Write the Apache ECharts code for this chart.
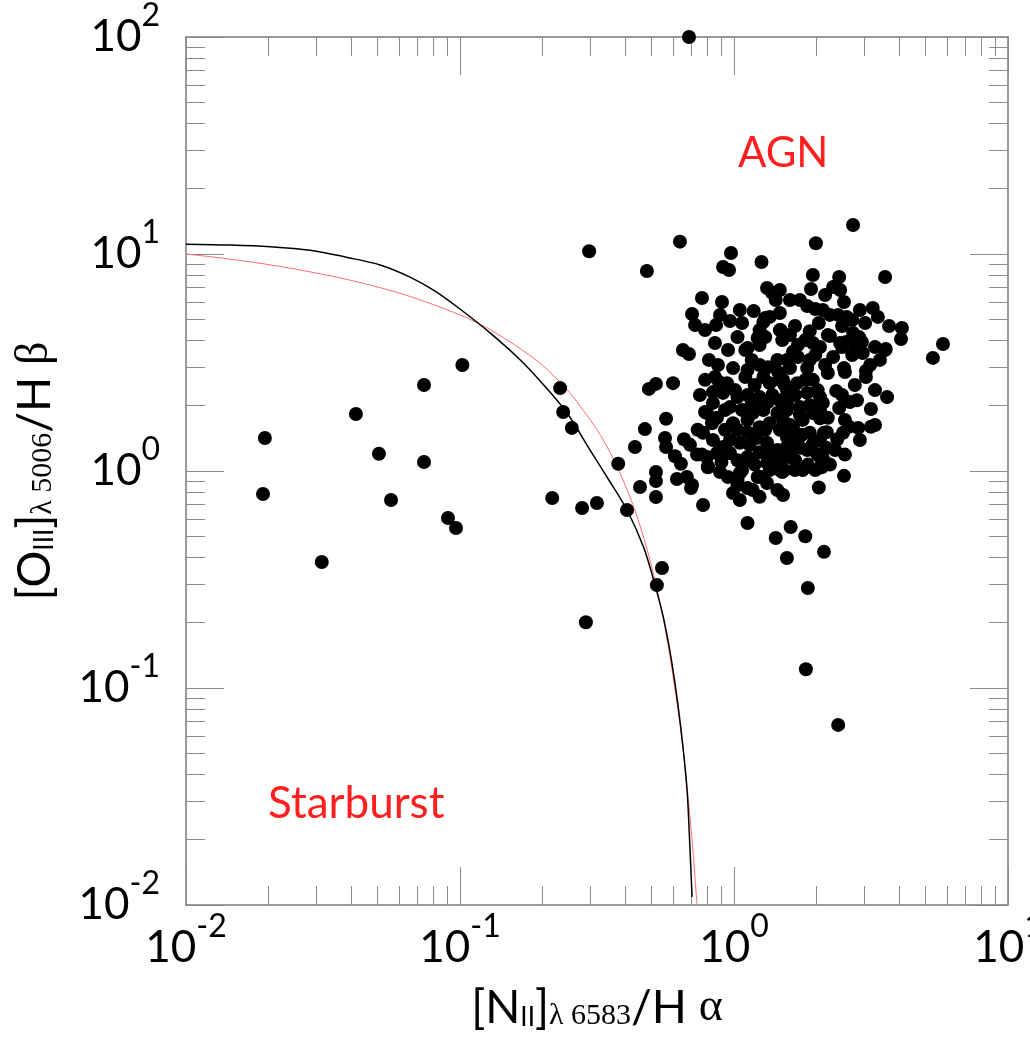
<!DOCTYPE html>
<html lang="en" style="height: 100%">
<head>
  <meta charset="utf-8">
  <title>BPT diagram</title>
</head>
<body style="height: 100%; margin: 0; background: #fff">
  <div id="container" style="width: 1030px; height: 1042px"></div>

  <script type="text/javascript" src="https://cdn.jsdelivr.net/npm/echarts@6/dist/echarts.min.js"></script>

  <script type="text/javascript">
    var dom = document.getElementById('container');
    var myChart = echarts.init(dom, null, { renderer: 'canvas' });

    // [NII]/Halpha , [OIII]/Hbeta  -- isolated galaxies
    const outerPoints = [
      [0.0194, 1.42], [0.0191, 0.784], [0.0313, 0.381], [0.0417, 1.83], [0.0506, 1.20],
      [0.056, 0.735], [0.0739, 2.49], [0.0739, 1.10], [0.0904, 0.607], [0.0967, 0.546],
      [0.102, 3.08], [0.217, 0.751], [0.232, 2.41], [0.238, 1.87], [0.256, 1.58],
      [0.279, 0.675], [0.288, 0.201], [0.296, 10.3], [0.316, 0.712], [0.378, 1.08],
      [0.407, 0.661], [0.435, 1.29], [0.454, 0.844], [0.481, 8.35], [0.635, 11.4],
      [0.519, 0.759], [0.546, 0.357], [0.523, 0.298], [0.685, 100]
    ];

    // the AGN cloud
    const clusterPoints = [
      [0.489, 2.39], [0.519, 2.52], [0.599, 2.54], [0.473, 1.56], [0.565, 1.74], [0.56, 1.42],
      [0.565, 1.29], [0.657, 1.40], [0.609, 1.17], [0.64, 1.08], [0.519, 0.99], [0.519, 0.90],
      [0.619, 0.918], [0.673, 0.938], [0.697, 0.835], [0.771, 0.697], [1.12, 0.576], [1.42, 0.491],
      [0.651, 3.61], [0.685, 3.46], [0.703, 5.29], [0.721, 4.71], [0.764, 6.27], [0.904, 6.01],
      [0.975, 10.1], [1.26, 9.19], [0.912, 8.71], [0.959, 8.44], [1.32, 6.97], [1.38, 6.61],
      [1.42, 6.14], [0.889, 5.24], [0.86, 4.71], [0.967, 4.91], [1.07, 4.81], [1.18, 5.46],
      [1.30, 5.07], [1.47, 5.35], [1.47, 4.46], [1.30, 4.14], [1.22, 4.10], [1.24, 3.81],
      [1.50, 4.01], [0.852, 3.89], [1.03, 4.14], [1.12, 3.69], [1.16, 3.25], [0.81, 3.25],
      [0.874, 3.08], [0.992, 2.98], [1.12, 2.92], [1.33, 3.01], [1.44, 3.25], [0.852, 2.71],
      [0.882, 2.57],
      [2.72, 13.6], [1.99, 11.2], [1.94, 8.0], [2.42, 7.83], [3.56, 7.83], [1.91, 6.90],
      [2.30, 7.05], [2.52, 6.01], [1.85, 5.76], [1.98, 5.58], [2.11, 5.52], [2.24, 5.24],
      [2.40, 5.24], [2.58, 5.13], [3.21, 5.64], [3.35, 5.13], [1.35, 5.13], [1.28, 4.86],
      [2.04, 4.81], [2.48, 4.66], [1.67, 4.66], [3.01, 4.81], [3.68, 4.66], [4.10, 4.56],
      [4.07, 4.06], [5.79, 3.85], [5.32, 3.32], [1.48, 4.46], [1.89, 4.41], [1.82, 4.01],
      [2.24, 4.19], [2.72, 4.33], [2.86, 4.14], [3.27, 3.73], [3.58, 3.65], [2.95, 3.50],
      [2.70, 3.42], [2.48, 3.73], [2.57, 3.93], [2.06, 3.73], [3.03, 2.89], [3.03, 2.71],
      [2.52, 2.98], [2.20, 2.83], [3.62, 2.19], [2.36, 2.34], [1.60, 2.98], [1.85, 2.98],
      [2.15, 3.08], [1.64, 3.54], [1.71, 3.35], [1.56, 3.25], [1.89, 3.25], [2.30, 3.35],
      [1.94, 3.89], [2.44, 3.89], [2.93, 3.93], [3.56, 3.61],
      [3.16, 1.93], [2.81, 2.12], [2.42, 1.95], [3.16, 1.60], [2.84, 1.58], [2.63, 1.60],
      [2.50, 1.50], [2.38, 1.40], [2.13, 1.50], [2.17, 1.28], [2.09, 1.12], [1.98, 1.01],
      [1.85, 1.25], [1.77, 1.47], [2.52, 0.95], [2.04, 0.84], [1.67, 1.01], [1.78, 1.01],
      [1.50, 0.99], [1.39, 1.09], [1.24, 0.94], [1.24, 0.76], [1.61, 0.552], [1.82, 0.50],
      [1.56, 0.397], [2.13, 0.424], [1.86, 0.289], [1.83, 0.122], [2.40, 0.0676],
      [0.797, 1.85], [0.831, 1.66], [0.733, 1.19], [0.764, 1.19], [0.803, 1.05], [0.889, 0.99],
      [0.951, 0.938], [1.03, 0.909], [1.07, 1.01], [1.22, 0.938], [0.992, 0.792], [1.05, 0.735],
      [1.17, 0.817], [0.771, 1.50], [0.838, 1.39], [0.912, 1.29], [0.967, 1.21], [1.05, 1.35],
      [1.16, 1.12], [1.24, 1.22], [1.07, 1.10],
      [0.943, 2.54], [1.10, 2.71], [1.19, 2.49], [1.28, 2.71], [1.35, 2.54], [1.47, 2.63],
      [1.56, 2.36], [0.838, 2.31], [0.912, 2.29], [1.03, 2.19], [1.16, 2.06], [1.24, 2.19],
      [1.33, 2.08], [1.47, 2.12], [0.838, 2.06], [0.967, 1.97], [1.07, 1.91], [1.17, 1.85],
      [1.28, 1.91], [1.44, 1.85], [1.56, 1.91], [0.784, 1.87], [0.867, 1.76], [0.992, 1.66],
      [1.03, 1.55], [1.12, 1.72], [1.24, 1.59], [1.35, 1.66], [1.47, 1.55], [1.14, 1.32],
      [1.21, 1.42], [1.32, 1.35], [1.44, 1.25], [1.56, 1.29], [0.797, 1.16], [0.867, 1.21],
      [0.951, 1.21], [1.03, 1.12], [1.12, 1.16], [1.32, 1.09], [1.47, 1.12], [1.56, 1.16],
      [0.803, 1.04], [1.05, 0.979], [1.35, 1.01], [1.47, 1.01], [0.703, 0.862], [1.03, 0.862],
      [1.12, 0.835], [1.32, 0.88], [1.44, 0.817], [1.51, 0.775],
      [2.54, 2.86], [1.51, 2.63], [1.70, 2.54], [1.94, 2.63], [1.85, 2.29], [2.06, 2.19],
      [2.11, 2.06], [2.48, 2.24], [2.65, 2.08], [1.56, 2.06], [1.74, 1.97], [1.51, 1.72],
      [1.64, 1.59], [1.78, 1.72], [1.94, 1.85], [2.06, 1.75], [1.56, 1.43], [1.71, 1.39],
      [1.89, 1.50], [2.06, 1.39], [2.18, 1.51], [1.60, 1.25], [1.74, 1.28], [2.01, 1.19],
      [2.11, 1.15], [1.67, 1.12], [1.86, 1.07], [1.53, 1.01], [2.09, 1.04],
      // densest part of the cloud
      [0.927, 1.91], [1.008, 2.36], [1.12, 2.24], [1.22, 2.01], [1.38, 2.24], [1.60, 1.63],
      [1.74, 1.81], [1.89, 2.01], [1.67, 2.24], [1.82, 2.63], [2.02, 2.36], [2.20, 1.76],
      [2.34, 1.25], [1.93, 1.32], [1.67, 1.39], [1.35, 1.19], [1.19, 1.07], [1.30, 1.55],
      [1.12, 1.51], [0.927, 1.55], [0.90, 1.10], [0.967, 1.39], [1.53, 2.49], [1.45, 2.86],
      [1.24, 3.08], [1.71, 3.81], [1.60, 4.23], [1.98, 3.42], [2.20, 4.23], [2.70, 4.96],
      [2.88, 5.52], [1.74, 6.14], [2.15, 6.47], [2.44, 6.83], [2.76, 3.81], [3.14, 3.08],
      [2.76, 2.49], [3.27, 2.36], [3.41, 3.25], [2.06, 1.91], [2.54, 1.72], [2.88, 1.39],
      [3.27, 1.63], [2.24, 1.07], [2.54, 1.19], [0.784, 2.63], [0.751, 2.24], [0.737, 1.55],
      [0.691, 1.32], [1.10, 3.61], [0.951, 3.61], [1.24, 4.46], [1.05, 5.52], [0.784, 4.46],
      [1.60, 6.14], [1.47, 6.83]
    ];

    // demarcation curves
    const blackCurve = [
      [0.01, 11.1], [0.0145, 11.0], [0.0203, 10.8], [0.0284, 10.4], [0.0397, 9.59],
      [0.0511, 8.90], [0.0657, 7.83], [0.0811, 6.75], [0.1, 5.58], [0.129, 4.32],
      [0.166, 3.25], [0.204, 2.46], [0.246, 1.85], [0.298, 1.25], [0.353, 0.89],
      [0.407, 0.661], [0.469, 0.442], [0.515, 0.298], [0.555, 0.206], [0.599, 0.121],
      [0.641, 0.064], [0.674, 0.0339], [0.691, 0.0179], [0.703, 0.0109]
    ];
    const redCurve = [
      [0.01, 10.0], [0.0158, 9.34], [0.0251, 8.52], [0.0398, 7.57], [0.0631, 6.48],
      [0.1, 5.24], [0.126, 4.55], [0.158, 3.82], [0.2, 3.07], [0.251, 2.30],
      [0.316, 1.55], [0.355, 1.20], [0.398, 0.88], [0.447, 0.596], [0.501, 0.361],
      [0.562, 0.185], [0.631, 0.0724], [0.676, 0.0337], [0.708, 0.0178], [0.733, 0.01]
    ];

    // minor tick positions
    const xMinorTicks = [0.02, 0.03, 0.04, 0.05, 0.06, 0.07, 0.08, 0.09,
      0.2, 0.3, 0.4, 0.5, 0.6, 0.7, 0.8, 0.9, 2, 3, 4, 5, 6, 7, 8, 9];
    const yMinorTicks = [0.02, 0.03, 0.04, 0.05, 0.06, 0.07, 0.08, 0.09,
      0.2, 0.3, 0.4, 0.5, 0.6, 0.7, 0.8, 0.9, 2, 3, 4, 5, 6, 7, 8, 9,
      20, 30, 40, 50, 60, 70, 80, 90];

    const FONT = 'Lato';
    const SERIF = 'Liberation Serif';
    const frameColor = '#7a7a7a';
    const tickColor = '#8c8c8c';

    function powLabel(v) {
      const e = Math.round(Math.log(v) / Math.LN10);
      return '{b|10}{s|' + e + '}';
    }
    // "10" fills the line box, exponent sits at its top
    const powRich = {
      b: { fontFamily: FONT, fontSize: 44, color: '#000', lineHeight: 74 },
      s: { fontFamily: FONT, fontSize: 32, color: '#000', lineHeight: 32, verticalAlign: 'top' }
    };
    const nameRich = {
      t: { fontFamily: FONT, fontSize: 46, color: '#000', lineHeight: 46, verticalAlign: 'top' },
      g: { fontFamily: SERIF, fontSize: 46, color: '#000', lineHeight: 46, verticalAlign: 'top' },
      i: { fontFamily: FONT, fontSize: 26, color: '#000', lineHeight: 26,
           verticalAlign: 'bottom', padding: [28, 0, 0, 0] },
      l: { fontFamily: SERIF, fontSize: 30, color: '#000', lineHeight: 30,
           verticalAlign: 'bottom', padding: [32, 0, 0, 0] }
    };

    function logToValue(list) {
      return list.map(function (v) { return Math.log(v) / Math.LN10; });
    }

    function majorAxis(pos, withLabels, extra) {
      const isX = pos === 'bottom' || pos === 'top';
      return Object.assign({
        type: 'log',
        logBase: 10,
        min: 0.01,
        max: isX ? 10 : 100,
        position: pos,
        axisLine: { show: true, onZero: false, lineStyle: { color: frameColor, width: 1.5 } },
        axisTick: { show: true, inside: true, length: 38, lineStyle: { color: tickColor, width: 1 } },
        axisLabel: withLabels
          ? { show: true, formatter: powLabel, rich: powRich, margin: isX ? 6 : 26 }
          : { show: false },
        splitLine: { show: false },
        minorTick: { show: false }
      }, extra || {});
    }

    function minorAxis(pos, ticks) {
      const isX = pos === 'bottom' || pos === 'top';
      return {
        type: 'value',
        min: -2,
        max: isX ? 1 : 2,
        position: pos,
        axisLine: { show: false, onZero: false },
        axisTick: {
          show: true, inside: true, length: 19,
          customValues: logToValue(ticks),
          lineStyle: { color: tickColor, width: 1 }
        },
        axisLabel: { show: false },
        splitLine: { show: false }
      };
    }

    var option = {
      backgroundColor: '#fff',
      animation: false,
      grid: {
        left: 186, top: 37, right: 22, bottom: 137,
        containLabel: false,
        outerBoundsMode: 'none'
      },
      xAxis: [
        majorAxis('bottom', true, {
          name: '{t|[N}{i|II}{t|]}{l|λ 6583}{t|/H }{g|α}',
          nameLocation: 'middle',
          nameGap: 80,
          nameMoveOverlap: false,
          nameTextStyle: { rich: nameRich }
        }),
        minorAxis('bottom', xMinorTicks),
        majorAxis('top', false),
        minorAxis('top', xMinorTicks)
      ],
      yAxis: [
        majorAxis('left', true, {
          name: '{t|[O}{i|III}{t|]}{l|λ 5006}{t|/H }{g|β}',
          nameLocation: 'middle',
          nameRotate: 90,
          nameGap: 128,
          nameMoveOverlap: false,
          nameTextStyle: { rich: nameRich }
        }),
        minorAxis('left', yMinorTicks),
        majorAxis('right', false),
        minorAxis('right', yMinorTicks)
      ],
      graphic: [
        {
          type: 'text', left: 738, top: 132, silent: true,
          style: { text: 'AGN', fill: '#ff1f1f', font: '42px Lato' }
        },
        {
          type: 'text', left: 268, top: 782, silent: true,
          style: { text: 'Starburst', fill: '#ff1f1f', font: '44px Lato' }
        }
      ],
      series: [
        {
          type: 'line',
          xAxisIndex: 0, yAxisIndex: 0,
          data: redCurve,
          showSymbol: false,
          smooth: 0.3,
          lineStyle: { color: '#ff6b6b', width: 1 },
          z: 2
        },
        {
          type: 'line',
          xAxisIndex: 0, yAxisIndex: 0,
          data: blackCurve,
          showSymbol: false,
          smooth: 0.3,
          lineStyle: { color: '#000', width: 1.5 },
          z: 3
        },
        {
          type: 'scatter',
          xAxisIndex: 0, yAxisIndex: 0,
          data: outerPoints.concat(clusterPoints),
          symbolSize: 14,
          itemStyle: { color: '#000', opacity: 1 },
          z: 5
        }
      ]
    };

    if (option && typeof option === 'object') {
      myChart.setOption(option);
    }

    window.addEventListener('resize', myChart.resize);
  </script>
</body>
</html>
